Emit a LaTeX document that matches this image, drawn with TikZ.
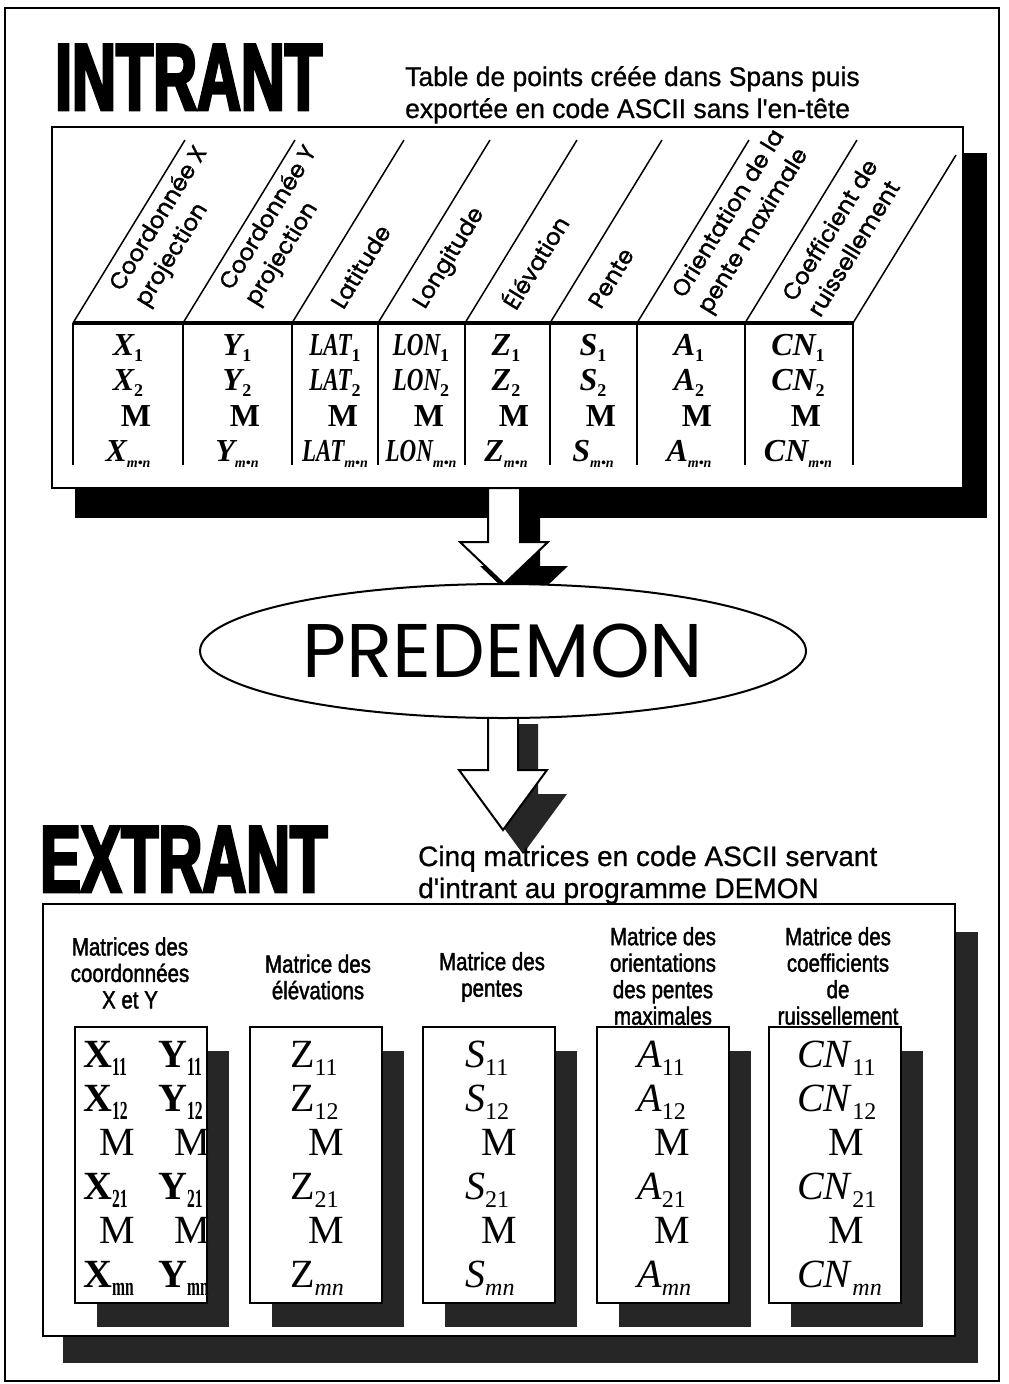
\documentclass[tikz,border=0pt]{standalone}
\usepackage{fontspec}
\setmainfont{Liberation Serif}
\newfontfamily\helvsub[FakeStretch=0.98,FakeBold=0.8]{Liberation Sans}
\newfontfamily\helvsubw[FakeStretch=1.0,FakeBold=0.8]{Liberation Sans}
\newfontfamily\helvhead[FakeStretch=0.82,FakeBold=1.6]{Liberation Sans}
\newfontfamily\titlefont[FakeStretch=0.64,FakeBold=3]{Liberation Sans}
\newfontfamily\gothic{Poppins}
\newfontfamily\gothichead[FakeBold=1.4]{Poppins}
\usetikzlibrary{shapes.geometric}

\newcommand\sub[1]{\raisebox{-6pt}{\fontsize{18}{18}\selectfont\upshape #1}}
\newcommand\subs[1]{\raisebox{-6pt}{\fontsize{14}{14}\selectfont #1}}
\newcommand\msub[1]{\raisebox{-8pt}{\fontsize{24}{24}\selectfont #1}}
\newcommand\nsub[1]{\raisebox{-8pt}{\scalebox{0.6}[1]{\fontsize{26}{26}\selectfont #1}}}
\newcommand\hollowarrow[6]{%
  \fill[#6,shift={(20,24)}] (#1-#5,#2) -- (#1+#5,#2) -- (#1+#5,#3) -- (#1+44,#3)
    -- (#1,#4) -- (#1-44,#3) -- (#1-#5,#3) -- cycle;
  \draw[line width=2,fill=white] (#1-#5,#2) -- (#1+#5,#2) -- (#1+#5,#3) -- (#1+44,#3)
    -- (#1,#4) -- (#1-44,#3) -- (#1-#5,#3) -- cycle;}

\tikzset{
  bigtitle/.style={font=\titlefont\bfseries\fontsize{95}{95}\selectfont, anchor=base west, inner sep=0pt},
  subtitle/.style={font=\helvsub\fontsize{27}{27}\selectfont, anchor=base west, inner sep=0pt},
  colhead/.style={font=\gothichead\fontsize{23}{30}\selectfont, rotate=58.5, anchor=west, align=left, inner sep=0pt},
  cell/.style={font=\fontsize{32}{32}\selectfont\bfseries\itshape, anchor=base, inner sep=0pt},
  celldots/.style={font=\fontsize{32}{32}\selectfont\bfseries, anchor=base, inner sep=0pt},
  mathead/.style={font=\helvhead\fontsize{25}{26.5}\selectfont, align=center, inner sep=0pt},
  matentry/.style={font=\fontsize{40}{40}\selectfont, anchor=base west, inner sep=0pt},
  matdots/.style={font=\fontsize{40}{40}\selectfont, anchor=base, inner sep=0pt},
  boxline/.style={line width=2.5, fill=white},
}

\begin{document}
\begin{tikzpicture}[x=1pt,y=-1pt]
\useasboundingbox (0,0) rectangle (1009,1384);
\fill[white] (0,0) rectangle (1009,1384);
\draw[line width=2] (5,8) rectangle (999,1381);

\node[bigtitle] (intrant) at (55,110) {INTRANT};
\node[subtitle] (intro1) at (405,86) {Table de points créée dans Spans puis};
\node[subtitle] (intro2) at (405,118) {exportée en code ASCII sans l'en-tête};

\fill[black] (75,153) rectangle (987,518);
\draw[boxline] (52,127) rectangle (963,488);
\foreach \bx in {73,183,292,378,465,550,637,745}
  \draw[line width=1.5] (\bx,323) -- ++(112,-183);
\draw[line width=1.5] (853,323) -- (956,155);
\foreach \bx in {73,183,292,378,465,550,637,745,853}
  \draw[line width=2] (\bx,323) -- (\bx,465);
\draw[line width=3.5] (73,323) -- (853,323);
\foreach \hx/\hy/\txt [count=\col] in {129/297/{Coordonnée X\\projection}, 239/296/{Coordonnée Y\\projection},
    336/306/Latitude, 420/307/Longitude, 507/306/Élévation, 594/306/Pente,
    692/304/{Orientation de la\\pente maximale}, 800/306/{Coefficient de\\ruissellement}}
  \node[colhead] (head\col) at (\hx,\hy) {\txt};
\foreach \cx/\nm [count=\col] in {128/X, 237/Y, 335/\scalebox{0.72}[1]{LAT}, 421/\scalebox{0.72}[1]{LON},
    506/Z, 593/S, 689/A, 798/CN} {
  \node[cell] (cell\col-1) at (\cx,355) {\nm\sub{1}};
  \node[cell] (cell\col-2) at (\cx,390) {\nm\sub{2}};
  \node[celldots] (cell\col-3) at (\cx+8,426) {M};
  \node[cell] (cell\col-4) at (\cx,461) {\nm\subs{m•n}};
}

\hollowarrow{504}{488}{542}{584}{16}{black}
\hollowarrow{503}{700}{770}{830}{15}{black!85}
\node[draw, ellipse, line width=2, fill=white, minimum width=606, minimum height=134,
  font=\gothic\fontsize{76}{76}\selectfont] (pred) at (503,651) {PREDEMON\hspace{16pt}};

\node[bigtitle] (extrant) at (40,892) {EXTRANT};
\node[subtitle, font=\helvsubw\fontsize{28}{28}\selectfont] (outro1) at (418,866) {Cinq matrices en code ASCII servant};
\node[subtitle, font=\helvsubw\fontsize{28}{28}\selectfont] (outro2) at (418,898) {d'intrant au programme DEMON};

\fill[black!85] (63,932) rectangle (978,1363);
\draw[boxline] (43,904) rectangle (955,1336);

\node[mathead] (mh1) at (130,973) {Matrices des\\coordonnées\\X et Y};
\node[mathead] (mh2) at (318,977) {Matrice des\\élévations};
\node[mathead] (mh3) at (492,977) {Matrice des\\pentes};
\node[mathead] (mh4) at (663,976) {Matrice des\\orientations\\des pentes\\maximales};
\node[mathead] (mh5) at (838,976) {Matrice des\\coefficients\\de\\ruissellement};

\foreach \lx in {75,250,423,597,769} {
  \fill[black!85] (\lx+22,1051) rectangle (\lx+154,1327);
  \draw[boxline] (\lx,1027) rectangle (\lx+132,1303);
}

\foreach \yy/\sb [count=\rw] in {1067/11, 1111/12, 1199/21, 1287/mn} {
  \node[matentry, font=\fontsize{40}{40}\selectfont\bfseries] (xmat\rw) at (83,\yy) {X\nsub{\sb}};
  \node[matentry, font=\fontsize{40}{40}\selectfont\bfseries] (ymat\rw) at (158,\yy) {Y\nsub{\sb}};
}
\foreach \yy [count=\rw] in {1155,1243} {
  \node[matdots] (xdots\rw) at (117,\yy) {M};
  \node[matdots] (ydots\rw) at (192,\yy) {M};
}
\foreach \lx/\mx/\nm [count=\bx] in {290/326/Z, 465/499/\textit{S}, 637/672/\textit{A}, 797/846/\textit{CN}} {
  \foreach \yy/\sb [count=\rw] in {1067/11, 1111/12, 1199/21, 1287/\textit{mn}}
    \node[matentry] (mat\bx-\rw) at (\lx,\yy) {\nm\msub{\sb}};
  \node[matdots] (matdots\bx-1) at (\mx,1155) {M};
  \node[matdots] (matdots\bx-2) at (\mx,1243) {M};
}
\end{tikzpicture}
\end{document}
